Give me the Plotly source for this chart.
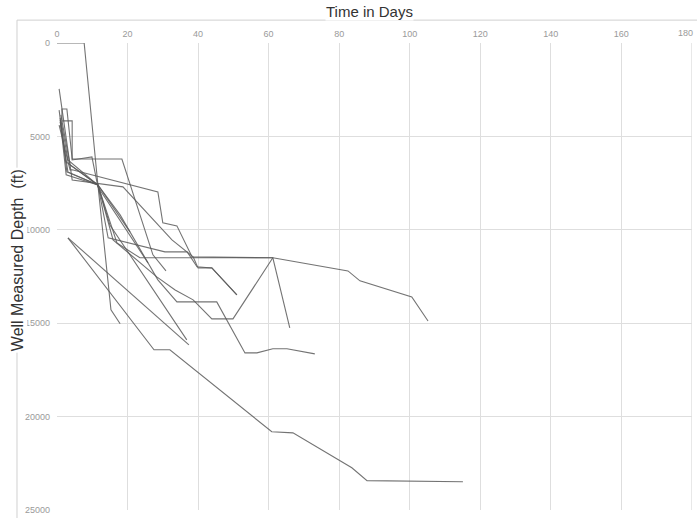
import plotly.graph_objects as go

# Each well: days (x) and measured depth in ft (y)
well_01_days = [3.1, 27.5, 32.0, 60.9, 66.9, 83.6, 87.9, 115.1]
well_01_depth = [10430, 16420, 16420, 20810, 20870, 22740, 23430, 23490]
well_02_days = [3.1, 37.4]
well_02_depth = [10430, 16160]
well_03_days = [1.1, 3.1, 11.6, 15.0, 36.8]
well_03_depth = [4120, 6260, 7600, 9740, 15890]
well_04_days = [0, 7.7, 11.6, 15.3, 17.9]
well_04_depth = [0, 0, 7600, 14280, 15030]
well_05_days = [0.6, 3.7, 4.3, 28.6, 30.0, 34.0, 38.3, 61.2, 82.5, 85.9, 100.6, 105.2]
well_05_depth = [4390, 6790, 6790, 7970, 9630, 9790, 11450, 11500, 12200, 12730, 13590, 14880]
well_06_days = [0.9, 2.6, 11.6, 17.0, 23.5, 61.2, 66.0]
well_06_depth = [4010, 6370, 7600, 10700, 11500, 11500, 15250]
well_07_days = [0.9, 3.1, 11.6, 15.9, 28.3, 33.5, 38.6, 43.9, 49.9, 61.2]
well_07_depth = [4230, 6900, 7600, 10540, 12520, 13220, 13750, 14770, 14770, 11500]
well_08_days = [1.1, 3.7, 11.6, 20.7]
well_08_depth = [3850, 6530, 7600, 10110]
well_09_days = [0.6, 2.8, 11.6, 14.5, 30.6, 36.9, 39.7, 43.9, 51.0]
well_09_depth = [3590, 6900, 7600, 10430, 11180, 11180, 11980, 12040, 13480]
well_10_days = [0.9, 2.6, 11.6, 17.9, 28.6, 34.0, 45.3, 53.3, 56.7, 61.2, 65.2, 73.1]
well_10_depth = [4120, 7060, 7600, 9200, 12680, 13860, 13860, 16590, 16590, 16370, 16370, 16640]
well_11_days = [1.4, 4.3, 4.3, 9.9, 11.6, 25.8]
well_11_depth = [4170, 4170, 6260, 6100, 7700, 11770]
well_12_days = [1.4, 1.4, 2.8, 4.3, 18.4, 22.7, 27.2, 30.9]
well_12_depth = [4120, 3530, 3530, 6210, 6210, 8770, 11340, 12200]
well_13_days = [0.6, 4.3, 18.7, 32.6, 38.6, 40.0, 43.9, 51.0]
well_13_depth = [2460, 7330, 7700, 10540, 11450, 12040, 12040, 13480]

x_ticks = [0, 20, 40, 60, 80, 100, 120, 140, 160, 180]
x_tick_labels = ["0", "20", "40", "60", "80", "100", "120", "140", "160", "180"]
y_ticks = [0, 5000, 10000, 15000, 20000, 25000]
y_tick_labels = ["0", "5000", "10000", "15000", "20000", "25000"]

wells = [
    (well_01_days, well_01_depth), (well_02_days, well_02_depth),
    (well_03_days, well_03_depth), (well_04_days, well_04_depth),
    (well_05_days, well_05_depth), (well_06_days, well_06_depth),
    (well_07_days, well_07_depth), (well_08_days, well_08_depth),
    (well_09_days, well_09_depth), (well_10_days, well_10_depth),
    (well_11_days, well_11_depth), (well_12_days, well_12_depth),
    (well_13_days, well_13_depth),
]

fig = go.Figure()
for d, z in wells:
    fig.add_trace(go.Scatter(x=d, y=z, mode="lines",
                             line=dict(color="rgba(90,90,90,0.85)", width=1.1),
                             showlegend=False, hoverinfo="skip"))

tick_font = dict(family="Liberation Sans, Arial, sans-serif", size=9, color="#9a9a9a")
fig.update_layout(
    width=697, height=518,
    margin=dict(l=57, r=5, t=43, b=8),
    paper_bgcolor="white", plot_bgcolor="white",
    xaxis=dict(side="top", range=[0, 180.05], tickvals=x_ticks[:-1], ticktext=x_tick_labels[:-1],
               showgrid=True, gridcolor="#dedede", gridwidth=1,
               zeroline=False, showline=False, ticks="", automargin=False,
               ticklabelstandoff=3, tickfont=tick_font),
    yaxis=dict(range=[25000, 0], tickvals=y_ticks, ticktext=y_tick_labels,
               showgrid=True, gridcolor="#dedede", gridwidth=1,
               zeroline=False, showline=False, ticks="", automargin=False,
               ticklabelstandoff=6, tickfont=tick_font),
    shapes=[
        dict(type="rect", xref="paper", yref="paper",
             x0=-0.063, x1=1.2, y0=-0.2, y1=1.049,
             line=dict(color="#d0d0d0", width=1), layer="below"),
        dict(type="line", xref="x", yref="paper", x0=x_ticks[-1], x1=x_ticks[-1],
             y0=0, y1=1, line=dict(color="#dedede", width=1), layer="below"),
    ],
    annotations=[
        dict(text=x_tick_labels[-1], xref="x", yref="paper",
             x=x_ticks[-1], y=1.0, yshift=3, xshift=3, xanchor="right", yanchor="bottom",
             showarrow=False, font=tick_font),
        dict(text="Time in Days", xref="paper", yref="paper",
             x=0.492, y=1.047, xanchor="center", yanchor="bottom",
             showarrow=False, bgcolor="white", borderpad=0,
             font=dict(family="Liberation Sans, Arial, sans-serif", size=15, color="#333333")),
        dict(text="Well Measured Depth  (ft)", xref="paper", yref="paper",
             x=-0.063, y=0.535, xanchor="center", yanchor="middle",
             textangle=-90, showarrow=False, bgcolor="white", borderpad=1,
             font=dict(family="Liberation Sans, Arial, sans-serif", size=16, color="#333333")),
    ],
)

fig.write_html("out.html")
